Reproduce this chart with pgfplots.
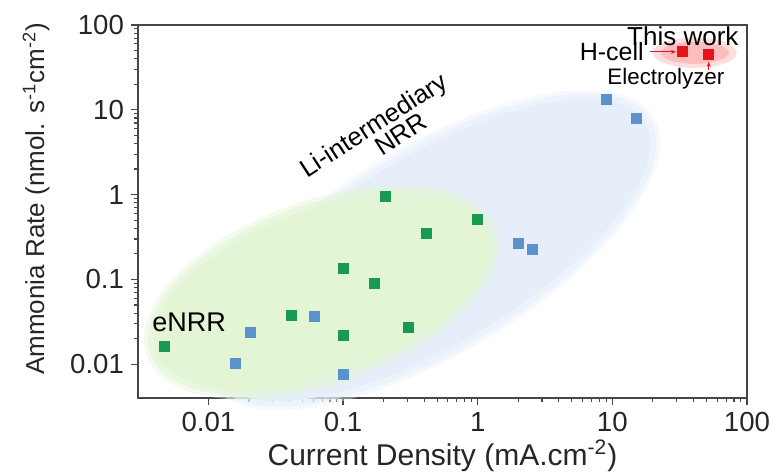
\documentclass[border=0pt]{standalone}
\usepackage{pgfplots}
\pgfplotsset{compat=1.18}
\usepackage{fontspec}
\setmainfont{Liberation Sans}
\usetikzlibrary{arrows.meta}

\definecolor{gmark}{RGB}{24,155,78}
\definecolor{bmark}{RGB}{92,146,204}
\definecolor{rmark}{RGB}{232,18,28}
\definecolor{gfill}{RGB}{227,245,213}
\definecolor{bfill}{RGB}{230,239,249}
\definecolor{rglow}{RGB}{250,190,190}
\definecolor{frame}{RGB}{70,70,70}

\begin{document}
\begin{tikzpicture}
\begin{axis}[
  scale only axis,
  width=304.5pt, height=186.5pt,
  xmode=log, ymode=log,
  xmin=0.003, xmax=100,
  ymin=0.004, ymax=100,
  axis line style={frame, line width=0.8pt},
  tick style={frame, line width=0.6pt},
  tick align=outside,
  xtick pos=bottom, ytick pos=left,
  major tick length=3.5pt, minor tick length=2pt,
  xtick={0.01,0.1,1,10,100},
  xticklabels={0.01,0.1,1,10,100},
  ytick={0.01,0.1,1,10,100},
  yticklabels={0.01,0.1,1,10,100},
  tick label style={font=\fontsize{13.8}{15}\selectfont, text=black!85},
  /pgf/number format/assume math mode=true,
  xlabel={Current Density (mA.cm\textsuperscript{-2})},
  ylabel={Ammonia Rate (nmol. s\textsuperscript{-1}cm\textsuperscript{-2})},
  xlabel style={font=\fontsize{15}{17}\selectfont, text=black!85,
    at={([yshift=-29pt]axis description cs:0.5,0)}, anchor=center},
  ylabel style={font=\fontsize{13}{15}\selectfont, text=black!85,
    at={([xshift=-51pt]axis description cs:0,0.534)}, anchor=center},
  clip=false,
]
% shaded regions
\fill[bfill, opacity=0.4] (axis cs:0.462,0.222) ellipse [x radius=129pt, y radius=52pt, rotate=31];
\fill[bfill, opacity=0.6] (axis cs:0.462,0.222) ellipse [x radius=127pt, y radius=50pt, rotate=31];
\fill[bfill] (axis cs:0.462,0.222) ellipse [x radius=124pt, y radius=47pt, rotate=31];
\fill[gfill, opacity=0.4] (axis cs:0.0692,0.0708) ellipse [x radius=93pt, y radius=46pt, rotate=20];
\fill[gfill, opacity=0.6] (axis cs:0.0692,0.0708) ellipse [x radius=91pt, y radius=44pt, rotate=20];
\fill[gfill] (axis cs:0.0692,0.0708) ellipse [x radius=88pt, y radius=41pt, rotate=20];
\fill[rglow, opacity=0.5] (axis cs:41,47) ellipse [x radius=21pt, y radius=7.5pt];
\fill[rglow] (axis cs:41,47) ellipse [x radius=17pt, y radius=5.5pt];

% eNRR
\addplot[only marks, mark=square*, mark size=2.5pt, mark options={fill=gmark, draw=gmark}]
  coordinates {
    (0.0047,0.0163) (0.041,0.038) (0.1,0.136) (0.1,0.022) (0.171,0.090)
    (0.207,0.96) (0.418,0.35) (0.307,0.027) (1.0,0.515)
  };
% Li-intermediary NRR
\addplot[only marks, mark=square*, mark size=2.5pt, mark options={fill=bmark, draw=bmark}]
  coordinates {
    (0.016,0.0103) (0.0205,0.0239) (0.0614,0.0369) (0.1,0.0076)
    (2.02,0.268) (2.56,0.228) (9.1,13.4) (15.2,8.0)
  };
% this work
\addplot[only marks, mark=square*, mark size=2.5pt, mark options={fill=rmark, draw=rmark}]
  coordinates {(33.4,48.2) (52,44.5)};

\node[font=\fontsize{13.5}{15}\selectfont] at (axis cs:0.0072,0.031) {eNRR};
\node[font=\fontsize{12.8}{15}\selectfont, rotate=33] at (axis cs:0.171,6.28) {Li-intermediary};
\node[font=\fontsize{12.8}{15}\selectfont, rotate=33] at (axis cs:0.268,5.19) {NRR};
\node[font=\fontsize{13}{15}\selectfont] at (axis cs:33.4,74.5) {This work};
\node[font=\fontsize{12.5}{15}\selectfont] at (axis cs:9.9,48.2) {H-cell};
\node[font=\fontsize{11.2}{13}\selectfont] at (axis cs:25,23.2) {Electrolyzer};
\draw[rmark, line width=0.5pt, -{Stealth[length=2.5pt,width=2pt]}] (axis cs:19,48.2) -- (axis cs:29.7,48.2);
\draw[rmark, line width=0.5pt, -{Stealth[length=2.5pt,width=2pt]}] (axis cs:52,29.6) -- (axis cs:52,36.8);
\end{axis}
\pgfresetboundingbox
\path ([shift={(-69pt,-38pt)}]current axis.south west) rectangle ([shift={(16pt,12.5pt)}]current axis.north east);
\end{tikzpicture}
\end{document}
